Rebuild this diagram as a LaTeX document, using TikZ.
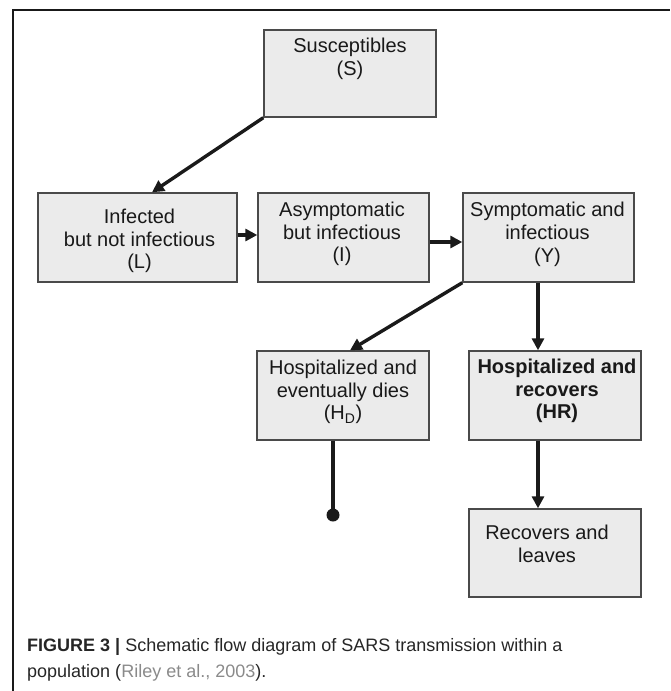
\documentclass[tikz,border=0pt]{standalone}
\usepackage{fontspec}
\setmainfont{Liberation Sans}
\usetikzlibrary{arrows.meta}
\definecolor{boxfill}{HTML}{EBEBEB}
\definecolor{boxline}{HTML}{4A4A4A}
\definecolor{arrowcol}{HTML}{1A1A1A}
\definecolor{citecol}{HTML}{8A8A8A}
\tikzset{
  stage/.style={draw=boxline, fill=boxfill, line width=1.4pt, inner sep=0pt, rectangle},
  stagetext/.style={align=center, inner sep=0pt, font=\fontsize{20}{22.8}\selectfont, text=black!90},
  flow/.style={draw=arrowcol, line width=3.4pt, -{Triangle[length=12pt,width=12pt]}},
  endline/.style={draw=arrowcol, line width=3.4pt},
  captext/.style={anchor=base west, inner sep=0pt, font=\fontsize{18}{22}\selectfont, text=black!85},
}
\begin{document}
\begin{tikzpicture}[x=1pt,y=-1pt]
\useasboundingbox (0,0) rectangle (670,691);
% outer frame
\draw[line width=1.6pt, black!90] (13,691) -- (13,10) -- (670,10);
% boxes
\node[stage, minimum width=172pt, minimum height=87pt] (S) at (350,73.5) {};
\node[stage, minimum width=199pt, minimum height=89pt] (L) at (137.5,237.5) {};
\node[stage, minimum width=171pt, minimum height=89pt] (I) at (343.5,237.5) {};
\node[stage, minimum width=171pt, minimum height=89pt] (Y) at (548.5,237.5) {};
\node[stage, minimum width=172pt, minimum height=89pt] (HD) at (343,395.5) {};
\node[stage, minimum width=172pt, minimum height=89pt] (HR) at (555,395.5) {};
\node[stage, minimum width=172pt, minimum height=88pt] (R) at (555,553) {};
% texts
\node[stagetext] (St) at (350,59) {Susceptibles\\(S)};
\node[stagetext] (Lt) at (139.5,241) {Infected\\but not infectious\\(L)};
\node[stagetext] (It) at (342,234) {Asymptomatic\\but infectious\\(I)};
\node[stagetext] (Yt) at (547.5,234.5) {Symptomatic and\\infectious\\(Y)};
\node[stagetext] (HDt) at (343,392) {Hospitalized and\\eventually dies\\(H\textsubscript{D})};
\node[stagetext, font=\fontsize{20}{22.8}\selectfont\bfseries] (HRt) at (557,391) {Hospitalized and\\recovers\\(HR)};
\node[stagetext] (Rt) at (547,543.5) {Recovers and\\leaves};
% connectors
\draw[flow] (S.south west) -- ([xshift=14.5pt]L.north);
\draw[flow] ([yshift=2.5pt]L.east) -- ([yshift=2.5pt]I.west);
\draw[flow] ([yshift=-4.5pt]I.east) -- ([yshift=-4.5pt]Y.west);
\draw[flow] (Y.south west) -- ([xshift=7pt]HD.north);
\draw[flow] ([xshift=-17pt]HR.north |- Y.south) -- ([xshift=-17pt]HR.north);
\draw[flow] ([xshift=-17pt]HR.south) -- ([xshift=-17pt]R.north);
\coordinate (death) at (333,515);
\draw[endline] ([xshift=-10pt]HD.south) -- (death);
\fill[arrowcol] (death) circle (6.5pt);
% caption
\node[captext] (cap1) at (27,651) {\textbf{FIGURE 3 |} Schematic flow diagram of SARS transmission within a};
\node[captext] (cap2) at (27,677) {population ({\color{citecol}Riley et al., 2003}).};
\end{tikzpicture}
\end{document}
